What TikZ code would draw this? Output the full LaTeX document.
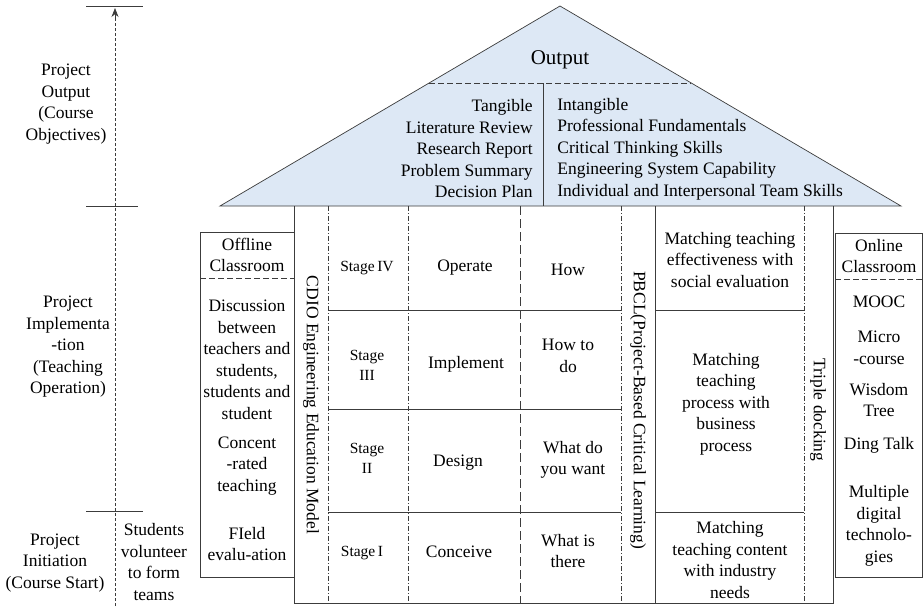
\documentclass[tikz,border=0pt]{standalone}
\usepackage{fontspec}
\setmainfont{Liberation Serif}
\usetikzlibrary{arrows.meta,calc}

\definecolor{roofblue}{RGB}{221,232,245}
\definecolor{wallgray}{RGB}{60,60,60}

\begin{document}
\begin{tikzpicture}[x=1pt,y=-1pt,line width=0.7pt,
	every node/.style={inner sep=0pt,align=center,font=\fontsize{17.5}{21.5}\selectfont},
	small/.style={font=\fontsize{15.5}{20}\selectfont},
	big/.style={font=\fontsize{21}{24}\selectfont},
	vert/.style={rotate=-90},
	wall/.style={draw=wallgray},
	dashdot/.style={wall,dash pattern=on 5pt off 2pt on 1pt off 2pt},
	longdash/.style={wall,dash pattern=on 9pt off 4pt},
	shortdash/.style={wall,dash pattern=on 6pt off 3pt}]
	\def\EAVE{206}
	\def\BOT{603}
	\useasboundingbox (0,0) rectangle (924,606);

	%左侧阶段轴
	\coordinate (tBot) at (115,606);
	\coordinate (tNeck) at (115,20);
	\coordinate (tTop) at (115,8);
	\draw [wall, dash pattern=on 3pt off 2pt] (tBot) -- (tNeck);
	\draw [wall, -{Stealth[length=9pt,width=7pt]}] (tNeck) -- (tTop);
	\foreach \y/\r in {6/143,206/138,511/143}
		\draw [wall] (86,\y) -- (\r,\y);

	\node (pOut) at (66,104) {Project\\Output\\(Course\\Objectives)};
	\node (pImpl) at (68,347) {Project\\Implementa\\-tion\\(Teaching\\Operation)};
	\node (pInit) at (55,563) {Project\\Initiation\\(Course Start)};
	\node (volunteer) at (154,562) {Students\\volunteer\\to form\\teams};

	%屋顶
	\coordinate (eaveL) at (220,\EAVE);
	\coordinate (apex) at (560,6);
	\coordinate (eaveR) at (901,\EAVE);
	\draw [wall, fill=roofblue] (eaveL) -- (apex) -- (eaveR) -- cycle;
	\coordinate (ridgeL) at ($(eaveL)!0.615!(apex)$);
	\coordinate (ridgeR) at ($(eaveR)!0.615!(apex)$);
	\draw [shortdash] (ridgeL) -- (ridgeR);
	\coordinate (midTop) at (543,83);
	\coordinate (midBot) at (543,\EAVE);
	\draw [wall] (midTop) -- (midBot);

	\node [big] (output) at (560,60) {Output};
	\node [anchor=east, align=right] (tangible) at (533,149)
		{Tangible\\Literature Review\\Research Report\\Problem Summary\\Decision Plan};
	\node [anchor=west, align=left] (intangible) at (557,149)
		{Intangible\\Professional Fundamentals\\Critical Thinking Skills\\Engineering System Capability\\Individual and Interpersonal Team Skills};

	%房体
	\draw [wall] (294,\EAVE) -- (294,\BOT) -- (833,\BOT) -- (833,\EAVE);
	\foreach \x in {328,408,621,804}
		\draw [dashdot] (\x,\EAVE) -- (\x,\BOT);
	\draw [longdash] (520,\EAVE) -- (520,\BOT);
	\draw [wall] (655,\EAVE) -- (655,\BOT);
	\foreach \y in {310,409,512}
		\draw [wall] (328,\y) -- (621,\y);
	\foreach \y in {310,512}
		\draw [wall] (655,\y) -- (804,\y);

	\node [vert] (cdio) at (311,405) {CDIO Engineering Education Model};
	\node [vert] (pbcl) at (638,410) {PBCL(Project-Based Critical Learning)};
	\node [vert] (triple) at (818,410) {Triple docking};

	%CDIO四个阶段
	\node [small] (s4) at (367,268) {Stage\,IV};
	\node (operate) at (465,268) {Operate};
	\node (how) at (568,270) {How};
	\node [small] (s3) at (367,365) {Stage\\III};
	\node (implement) at (466,364) {Implement};
	\node (howto) at (568,356) {How to\\do};
	\node [small] (s2) at (367,458) {Stage\\II};
	\node (design) at (458,463) {Design};
	\node (want) at (573,460) {What do\\you want};
	\node [small] (s1) at (362,553) {Stage\,I};
	\node (conceive) at (459,552) {Conceive};
	\node (there) at (568,551) {What is\\there};

	%三对接
	\node (effect) at (730,260) {Matching teaching\\effectiveness with\\social evaluation};
	\node (process) at (726,404) {Matching\\teaching\\process with\\business\\process};
	\node (content) at (730,560) {Matching\\teaching content\\with industry\\needs};

	%线下课堂
	\draw [wall] (294,232) -- (200,232) -- (200,577) -- (294,577);
	\draw [shortdash] (200,278) -- (294,278);
	\node (offline) at (247,255) {Offline\\Classroom};
	\node (discuss) at (247,360) {Discussion\\between\\teachers and\\students,\\students and\\student};
	\node (concent) at (247,466) {Concent\\-rated\\teaching};
	\node (field) at (247,544) {FIeld\\evalu-ation};

	%线上课堂
	\draw [wall] (835,233) rectangle (922,577);
	\draw [shortdash] (835,279) -- (922,279);
	\node (online) at (879,256) {Online\\Classroom};
	\node (mooc) at (879,302) {MOOC};
	\node (micro) at (879,348) {Micro\\-course};
	\node (wisdom) at (879,400) {Wisdom\\Tree};
	\node (ding) at (879,445) {Ding Talk};
	\node (digital) at (879,526) {Multiple\\digital\\technolo-\\gies};

\end{tikzpicture}
\end{document}
